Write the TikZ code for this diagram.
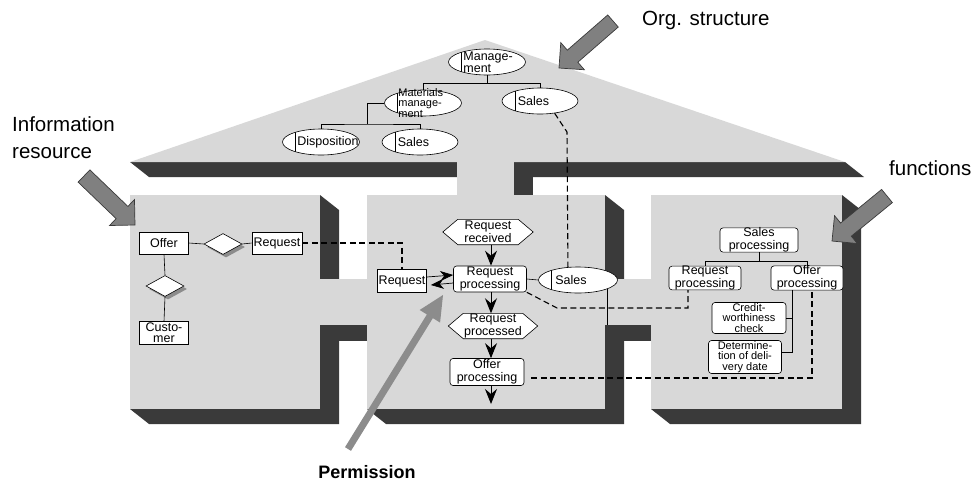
\documentclass[tikz,border=0pt]{standalone}
\usepackage{fontspec}
\setmainfont{Liberation Sans}
\usetikzlibrary{shapes.geometric,arrows.meta,calc,shadows}
\definecolor{lgray}{RGB}{216,216,216}
\definecolor{dgray}{RGB}{58,58,58}
\definecolor{agray}{RGB}{128,128,128}
\definecolor{pgray}{RGB}{140,140,140}
\newcommand{\BigArrow}[6]{%
  \fill[#6] (#1) -- ($(#1)!#3!(#2)!#4!90:(#2)$) -- ($(#1)!#3!(#2)!#5!90:(#2)$)
    -- ($(#2)!#5!-90:(#1)$) -- ($(#2)!#5!90:(#1)$)
    -- ($(#1)!#3!(#2)!#5!-90:(#2)$) -- ($(#1)!#3!(#2)!#4!-90:(#2)$) -- cycle;}
\begin{document}
\begin{tikzpicture}[x=1pt,y=-1pt,
  thin line/.style={line width=0.6pt},
  orgell/.style={ellipse, draw, fill=white, thin line, inner sep=0pt,
    minimum width=#1, minimum height=26pt,
    path picture={\draw[thin line] ([xshift=13pt]path picture bounding box.north west)
      -- ([xshift=13pt]path picture bounding box.south west);}},
  orgell/.default=77pt,
  otxt/.style={font=\fontsize{12.5}{10.5}\selectfont, align=left, inner sep=0pt, anchor=west},
  rbox/.style={draw, fill=white, thin line, rounded corners=3pt, inner sep=0pt, align=center,
    font=\fontsize{12.5}{12.5}\selectfont},
  rbox3/.style={rbox, font=\fontsize{11}{10.5}\selectfont},
  sbox/.style={draw, fill=white, thin line, inner sep=0pt, align=center,
    font=\fontsize{12.5}{12}\selectfont},
  hexn/.style={inner sep=0pt, align=center, font=\fontsize{12.5}{12.5}\selectfont,
    minimum height=25pt},
  dia/.style={diamond, draw, fill=white, thin line, inner sep=0pt, minimum width=38pt,
    minimum height=21pt, drop shadow={shadow xshift=3pt, shadow yshift=-3pt, fill=black!45, opacity=1}},
  tree/.style={thin line},
  dsh/.style={line width=1.1pt, dash pattern=on 6pt off 3.5pt},
  flow/.style={line width=1pt, -{Stealth[length=15pt,width=12pt,inset=5pt]}},
  flow2/.style={line width=0.7pt, -{Stealth[length=13pt,width=10pt,inset=4pt]}},
  biglbl/.style={font=\fontsize{20.5}{27}\selectfont, inner sep=0pt, align=left}
]
\useasboundingbox (0,0) rectangle (977,485);

% ---------- dark extrusions ----------
\fill[dgray] (130,162) -- (845,162) -- (864,177) -- (149,177) -- cycle;
\fill[dgray] (514,162) rectangle (533,195);
\fill[dgray] (320,195) -- (339,210) -- (339,424) -- (149,424) -- (130,409) -- (320,409) -- cycle;
\fill[dgray] (320,325) rectangle (367,341);
\fill[dgray] (605,195) -- (624,210) -- (624,424) -- (386,424) -- (367,409) -- (605,409) -- cycle;
\fill[dgray] (605,325) rectangle (651,341);
\fill[dgray] (842,195) -- (861,210) -- (861,424) -- (670,424) -- (651,409) -- (842,409) -- cycle;

% ---------- light faces ----------
\fill[lgray] (485,40) -- (845,162) -- (130,162) -- cycle;
\fill[lgray] (457,160) rectangle (514,196);
\fill[lgray] (130,195) rectangle (320,409);
\fill[lgray] (319,279) rectangle (368,325);
\fill[lgray] (367,195) rectangle (605,409);
\fill[lgray] (604,279) rectangle (652,325);
\fill[lgray] (651,195) rectangle (842,409);

% ---------- org structure ----------
\node[orgell] (mg) at (487,62) {};
\node[otxt] (mgt) at ($(mg.west)+(15,0)$) {Manage-\\ment};
\node[orgell] (mm) at (423,103) {};
\node[otxt, font=\fontsize{11}{10.8}\selectfont] (mmt) at ($(mm.west)+(14,0)$) {Materials\\manage-\\ment};
\node[orgell=76pt] (sa1) at (540,101) {};
\node[otxt] (sa1t) at ($(sa1.west)+(16,0)$) {Sales};
\node[orgell] (disp) at (321,142) {};
\node[otxt] (dispt) at ($(disp.west)+(15,0)$) {Disposition};
\node[orgell=76pt] (sa2) at (420,142) {};
\node[otxt] (sa2t) at ($(sa2.west)+(16,0)$) {Sales};

\draw[tree] (mg.south) -- ++(0,8);
\draw[tree] (mm.north) |- ($(mg.south)+(0,8)$) -| (sa1.north);
\draw[tree] (mm.west) -| (367,124);
\draw[tree] (disp.north) |- (367,124) -| (sa2.north);

% ---------- left box ----------
\node[sbox, minimum width=49pt, minimum height=22pt] (off) at (164,243) {Offer};
\node[dia] (d1) at (223,244) {};
\node[sbox, minimum width=50pt, minimum height=22pt] (lrq) at (277,243) {Request};
\node[dia] (d2) at (165,286) {};
\node[sbox, minimum width=49pt, minimum height=23pt, font=\fontsize{12.5}{11}\selectfont] (cus) at (164,333) {Custo-\\mer};
\draw[thin line] (off.east) -- (d1.west);
\draw[thin line] (d1.east) -- (lrq.west);
\draw[thin line] (off.south) -- (d2.north);
\draw[thin line] (d2.south) -- (cus.north);

% ---------- middle box ----------
\node[hexn, minimum width=90pt] (rr) at (488,232) {Request\\received};
\draw[thin line, fill=white] (rr.west) -- ($(rr.north west)+(15,0)$) -- ($(rr.north east)+(-15,0)$)
  -- (rr.east) -- ($(rr.south east)+(-15,0)$) -- ($(rr.south west)+(15,0)$) -- cycle;
\node[hexn, minimum width=90pt] at (rr) {Request\\received};
\node[rbox, minimum width=73pt, minimum height=26pt] (rp) at (490,279) {Request\\processing};
\node[orgell=79pt] (sal) at (578,280) {};
\node[otxt] (salt) at ($(sal.west)+(17,0)$) {Sales};
\node[sbox, minimum width=49pt, minimum height=23pt] (rq) at (402,281) {Request};
\node[hexn, minimum width=89pt] (rpd) at (493,326) {Request\\processed};
\draw[thin line, fill=white] (rpd.west) -- ($(rpd.north west)+(15,0)$) -- ($(rpd.north east)+(-15,0)$)
  -- (rpd.east) -- ($(rpd.south east)+(-15,0)$) -- ($(rpd.south west)+(15,0)$) -- cycle;
\node[hexn, minimum width=89pt] at (rpd) {Request\\processed};
\node[rbox, minimum width=74pt, minimum height=27pt] (op) at (487,372) {Offer\\processing};
\coordinate (opend) at (491,404);

\draw[flow] (rr.south -| 491,0) -- (rp.north -| 491,0);
\draw[flow] (rp.south -| 491,0) -- (rpd.north -| 491,0);
\draw[flow] (rpd.south -| 491,0) -- (op.north -| 491,0);
\draw[flow] (op.south -| 491,0) -- (opend);
\draw[flow2] ($(rq.east)+(0,-4)$) -- ($(rp.west)+(0,-4)$);
\draw[flow2] ($(rp.west)+(0,4)$) -- ($(rq.east)+(4,4)$);
\draw[thin line] (rp.east) -- (sal.west);
\draw[thin line] (sal.-17) -- (sal.-17 |- 0,325);

% ---------- right box ----------
\node[rbox, minimum width=78pt, minimum height=23pt] (sp) at (759,240) {Sales\\processing};
\node[rbox, minimum width=72pt, minimum height=23pt] (rrp) at (705,278) {Request\\processing};
\node[rbox, minimum width=72pt, minimum height=23pt] (rop) at (807,278) {Offer\\processing};
\node[rbox3, minimum width=74pt, minimum height=31pt] (cw) at (749,318) {Credit-\\worthiness\\check};
\node[rbox3, minimum width=73pt, minimum height=33pt] (dd) at (745,357) {Determine-\\tion of deli-\\very date};
\draw[tree] (sp.south) -- ++(0,9);
\draw[tree] (rrp.north) |- ($(sp.south)+(0,9)$) -| (rop.north);
\draw[tree] (cw.east) -| ($(rop.south)+(-15,0)$);
\draw[tree] ($(dd.east)+(0,-5)$) -| ($(rop.south)+(-15,0)$);

% ---------- dashed links ----------
\draw[dsh] (sa1.-40) -- (567,132) -- (sal.128);
\draw[dsh] (lrq.east) -| (rq.north);
\draw[dsh] (rp.south east) -- (557,308) -| ($(rrp.south)+(-17,0)$);
\draw[dsh] ($(op.east)+(7,6)$) -| ($(rop.south)+(5,0)$);

% ---------- big arrows ----------
\coordinate (orgtip) at (559,68);  \coordinate (orgtail) at (613,21);
\coordinate (inftip) at (135,225); \coordinate (inftail) at (84,176);
\coordinate (fntip) at (832,241);  \coordinate (fntail) at (887,196);
\coordinate (pmtip) at (443,295);  \coordinate (pmtail) at (348,449);
\BigArrow{orgtip}{orgtail}{18pt}{18pt}{8pt}{agray, draw=dgray, line width=0.7pt}
\BigArrow{inftip}{inftail}{18pt}{18pt}{8.5pt}{agray, draw=dgray, line width=0.7pt}
\BigArrow{fntip}{fntail}{18pt}{18pt}{8.5pt}{agray, draw=dgray, line width=0.7pt}
\BigArrow{pmtip}{pmtail}{25pt}{12pt}{3.5pt}{pgray}

% ---------- labels ----------
\node[biglbl, anchor=west] (orglbl) at (642,20) {Org. structure};
\node[biglbl, anchor=north west] (inflbl) at (12,116) {Information\\resource};
\node[biglbl, anchor=west] (fnlbl) at (889,168) {functions};
\node[font=\bfseries\fontsize{18}{20}\selectfont, inner sep=0pt] (pmlbl) at (367,472) {Permission};
\end{tikzpicture}
\end{document}
